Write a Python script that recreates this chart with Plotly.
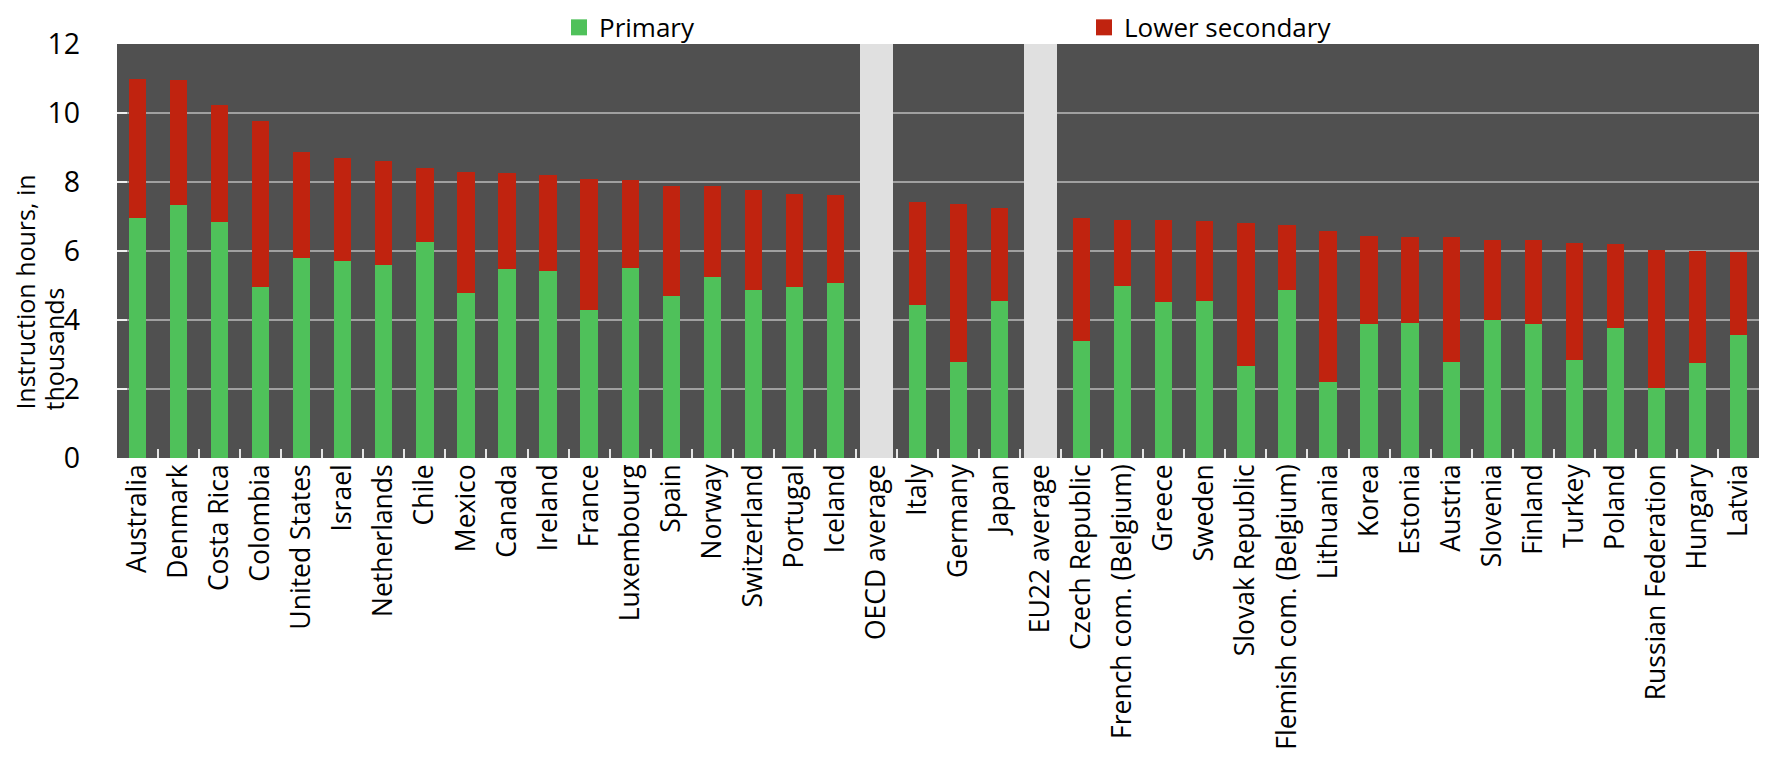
import plotly.graph_objects as go

categories = [
    "Australia", "Denmark", "Costa Rica", "Colombia", "United States", "Israel",
    "Netherlands", "Chile", "Mexico", "Canada", "Ireland", "France", "Luxembourg",
    "Spain", "Norway", "Switzerland", "Portugal", "Iceland", "OECD average",
    "Italy", "Germany", "Japan", "EU22 average", "Czech Republic",
    "French com. (Belgium)", "Greece", "Sweden", "Slovak Republic",
    "Flemish com. (Belgium)", "Lithuania", "Korea", "Estonia", "Austria",
    "Slovenia", "Finland", "Turkey", "Poland", "Russian Federation", "Hungary",
    "Latvia",
]

# Primary instruction hours (thousands)
primary = [
    6.96, 7.33, 6.84, 4.96, 5.80, 5.71, 5.59, 6.26, 4.78, 5.48, 5.42, 4.29, 5.51,
    4.70, 5.25, 4.87, 4.96, 5.07, None,
    4.43, 2.78, 4.55, None, 3.39,
    4.99, 4.52, 4.55, 2.67, 4.87, 2.20, 3.88, 3.91, 2.78,
    4.00, 3.88, 2.84, 3.77, 2.03, 2.75, 3.57,
]

# Total (primary + lower secondary) instruction hours (thousands)
total = [
    10.98, 10.96, 10.22, 9.76, 8.87, 8.70, 8.60, 8.41, 8.29, 8.25, 8.19, 8.08, 8.06,
    7.88, 7.88, 7.77, 7.65, 7.61, None,
    7.42, 7.36, 7.25, None, 6.96,
    6.90, 6.90, 6.86, 6.80, 6.74, 6.57, 6.43, 6.40, 6.40,
    6.32, 6.32, 6.22, 6.20, 6.03, 5.99, 5.97,
]

lower_secondary = [
    round(t - p, 2) if (t is not None and p is not None) else None
    for t, p in zip(total, primary)
]

series_names = ["Primary", "Lower secondary"]
average_labels = ["OECD average", "EU22 average"]
y_title_lines = ["Instruction hours, in", "thousands"]
y_max = 12
highlight = [y_max if c in average_labels else None for c in categories]

GREEN = "#4fc15a"
RED = "#c0230f"
BG = "#505050"
font_family = "Open Sans, Noto Sans, sans-serif"

fig = go.Figure()
for name, vals, col in [(series_names[0], primary, GREEN),
                        (series_names[1], lower_secondary, RED)]:
    fig.add_trace(go.Bar(
        x=categories, y=vals, name=name, legendgroup=name, showlegend=False,
        marker=dict(color=col, line=dict(width=0)), width=0.42,
    ))
fig.add_trace(go.Bar(
    x=categories, y=highlight, name="average", showlegend=False,
    marker=dict(color="#e0e0e0", line=dict(width=0)), width=0.82,
    hoverinfo="skip",
))
# legend proxies (larger square swatches)
for name, col in [(series_names[0], GREEN), (series_names[1], RED)]:
    fig.add_trace(go.Scatter(
        x=[None], y=[None], mode="markers", name=name, legendgroup=name,
        marker=dict(symbol="square", size=18, color=col, line=dict(width=0)),
        showlegend=True,
    ))

title_annotations = [
    dict(text=line, xref="paper", yref="paper", x=xp, y=0.111,
         xanchor="center", yanchor="bottom", textangle=-90, showarrow=False,
         font=dict(size=25, family=font_family, color="black"))
    for line, xp in zip(y_title_lines, [-0.0566, -0.0384])
]

# the page body adds an 8px margin, so the figure is 8px smaller each way
fig.update_layout(
    width=1761, height=755,
    barmode="stack",
    paper_bgcolor="white",
    plot_bgcolor=BG,
    margin=dict(l=109, r=10, t=36, b=305, autoexpand=False),
    font=dict(family=font_family, color="black"),
    legend=dict(
        orientation="h", x=0.2692, xanchor="left", y=1.04, yanchor="middle",
        font=dict(size=26, family=font_family), entrywidth=480,
        bgcolor="rgba(0,0,0,0)", traceorder="normal",
        itemclick=False, itemwidth=30,
    ),
    showlegend=True,
    annotations=title_annotations,
)

fig.update_xaxes(
    type="category",
    tickangle=-90,
    tickfont=dict(size=26.5, family=font_family, color="black"),
    ticks="inside", tickson="boundaries", ticklen=9, tickwidth=1.5,
    tickcolor="#e6e6e6",
    showgrid=False, showline=False, zeroline=False,
    range=[-0.5, len(categories) - 0.5],
)
fig.update_yaxes(
    range=[0, y_max], dtick=2,
    tickfont=dict(size=28.5, family=font_family, color="black"),
    showgrid=True, gridcolor="#a0a0a0", gridwidth=1.5,
    zeroline=False, showline=False,
    ticks="inside", ticklen=10, tickwidth=1.5, tickcolor="#f0f0f0",
    ticklabelstandoff=36,
)

fig.write_html("out.html")
